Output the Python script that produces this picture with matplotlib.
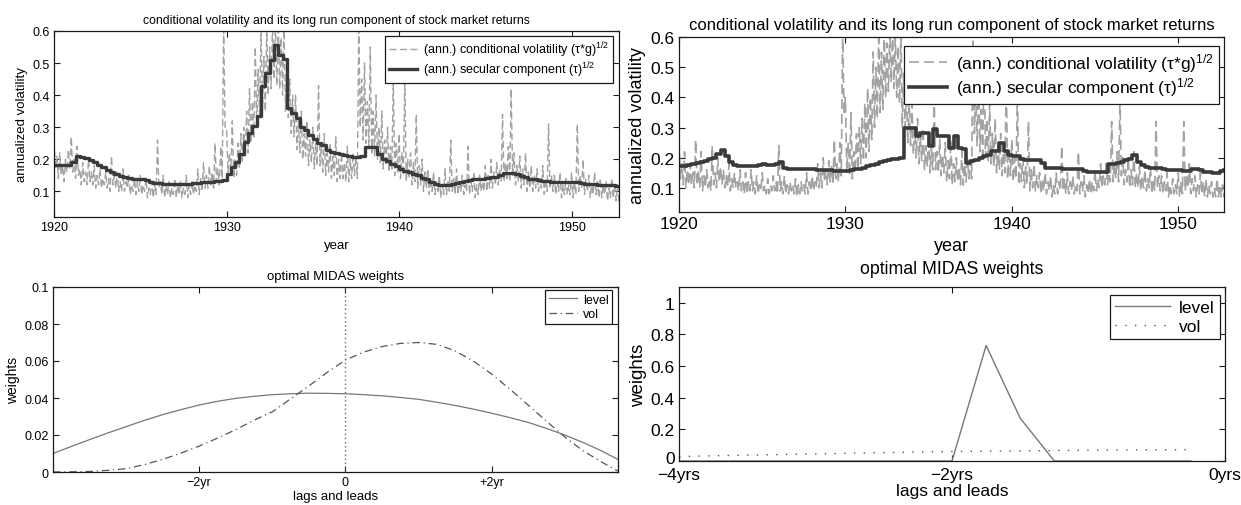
import numpy as np
import matplotlib
matplotlib.use("Agg")
import matplotlib.pyplot as plt
import matplotlib.transforms as mtransforms

plt.rcParams['font.family'] = ['Liberation Sans', 'DejaVu Sans']
plt.rcParams['mathtext.fontset'] = 'custom'
plt.rcParams['mathtext.rm'] = 'Liberation Sans'
plt.rcParams['mathtext.it'] = 'Liberation Sans:italic'

# ---------------- data ----------------
start_year = 1920.0
# secular component (tau)^1/2, quarterly, left model
tau_left = [
    0.183, 0.183, 0.183, 0.183,  0.190, 0.211, 0.207, 0.203,
    0.198, 0.190, 0.183, 0.176,  0.168, 0.160, 0.153, 0.148,
    0.144, 0.141, 0.139, 0.138,  0.140, 0.134, 0.130, 0.127,
    0.125, 0.123, 0.122, 0.122,  0.122, 0.122, 0.122, 0.123,
    0.125, 0.127, 0.128, 0.129,  0.130, 0.131, 0.132, 0.135,
    0.154, 0.175, 0.191, 0.217,  0.253, 0.281, 0.305, 0.336,
    0.430, 0.470, 0.510, 0.556,  0.525, 0.512, 0.360, 0.345,
    0.330, 0.300, 0.290, 0.275,  0.264, 0.250, 0.243, 0.230,
    0.224, 0.220, 0.215, 0.212,  0.209, 0.207, 0.206, 0.211,
    0.237, 0.237, 0.237, 0.216,  0.201, 0.195, 0.185, 0.178,
    0.170, 0.164, 0.160, 0.155,  0.150, 0.143, 0.137, 0.130,
    0.124, 0.119, 0.119, 0.121,  0.124, 0.127, 0.130, 0.132,
    0.135, 0.137, 0.139, 0.140,  0.142, 0.144, 0.146, 0.150,
    0.158, 0.157, 0.156, 0.154,  0.148, 0.145, 0.140, 0.137,
    0.134, 0.132, 0.131, 0.130,  0.129, 0.129, 0.130, 0.130,
    0.130, 0.128, 0.125, 0.122,  0.122, 0.122, 0.121, 0.120,
    0.119, 0.119, 0.118, 0.117,
]
# secular component (tau)^1/2, quarterly, right model
tau_right = [
    0.172, 0.172, 0.175, 0.178,  0.183, 0.186, 0.189, 0.195,
    0.200, 0.211, 0.226, 0.205,  0.186, 0.176, 0.172, 0.172,
    0.172, 0.173, 0.174, 0.175,  0.178, 0.176, 0.176, 0.178,
    0.186, 0.165, 0.163, 0.163,  0.163, 0.162, 0.162, 0.161,
    0.161, 0.160, 0.160, 0.159,  0.158, 0.157, 0.156, 0.156,
    0.156, 0.158, 0.161, 0.164,  0.167, 0.172, 0.176, 0.180,
    0.185, 0.188, 0.192, 0.195,  0.196, 0.200, 0.300, 0.300,
    0.300, 0.272, 0.283, 0.283,  0.239, 0.294, 0.272, 0.272,
    0.272, 0.233, 0.272, 0.233,  0.228, 0.183, 0.188, 0.194,
    0.200, 0.206, 0.210, 0.222,  0.222, 0.250, 0.222, 0.210,
    0.207, 0.205, 0.197, 0.194,  0.194, 0.194, 0.194, 0.181,
    0.167, 0.167, 0.167, 0.166,  0.161, 0.161, 0.161, 0.161,
    0.161, 0.155, 0.152, 0.152,  0.152, 0.152, 0.153, 0.180,
    0.180, 0.183, 0.186, 0.194,  0.197, 0.210, 0.185, 0.175,
    0.170, 0.166, 0.165, 0.165,  0.162, 0.160, 0.160, 0.160,
    0.158, 0.156, 0.156, 0.162,  0.162, 0.158, 0.152, 0.152,
    0.150, 0.148, 0.155, 0.160,
]
# conditional volatility (tau*g)^1/2, monthly, left model
cv_left = [
    0.26, 0.17, 0.21, 0.14, 0.22, 0.15, 0.18, 0.13, 0.20, 0.16, 0.23, 0.17,
    0.27, 0.16, 0.20, 0.14, 0.24, 0.15, 0.17, 0.12, 0.19, 0.13, 0.16, 0.12,
    0.20, 0.13, 0.16, 0.12, 0.18, 0.11, 0.15, 0.12, 0.17, 0.11, 0.14, 0.12,
    0.16, 0.11, 0.14, 0.10, 0.21, 0.12, 0.15, 0.11, 0.16, 0.10, 0.13, 0.10,
    0.17, 0.10, 0.13, 0.11, 0.15, 0.09, 0.12, 0.10, 0.14, 0.09, 0.13, 0.10,
    0.15, 0.09, 0.12, 0.10, 0.14, 0.08, 0.11, 0.09, 0.13, 0.08, 0.12, 0.09,
    0.26, 0.11, 0.13, 0.09, 0.15, 0.08, 0.12, 0.09, 0.13, 0.08, 0.11, 0.09,
    0.14, 0.08, 0.12, 0.09, 0.13, 0.08, 0.11, 0.09, 0.15, 0.08, 0.12, 0.09,
    0.13, 0.09, 0.12, 0.10, 0.17, 0.09, 0.14, 0.10, 0.19, 0.11, 0.15, 0.11,
    0.18, 0.12, 0.16, 0.11, 0.25, 0.13, 0.17, 0.12, 0.24, 0.14, 0.62, 0.30,
    0.30, 0.16, 0.22, 0.15, 0.32, 0.14, 0.20, 0.15, 0.25, 0.17, 0.28, 0.19,
    0.30, 0.21, 0.35, 0.22, 0.42, 0.25, 0.38, 0.27, 0.55, 0.30, 0.48, 0.33,
    0.62, 0.36, 0.52, 0.35, 0.62, 0.40, 0.55, 0.42, 0.62, 0.45, 0.62, 0.43,
    0.62, 0.42, 0.58, 0.40, 0.62, 0.35, 0.50, 0.33, 0.45, 0.28, 0.40, 0.27,
    0.40, 0.23, 0.32, 0.22, 0.35, 0.20, 0.28, 0.21, 0.32, 0.18, 0.26, 0.19,
    0.30, 0.17, 0.25, 0.18, 0.43, 0.18, 0.24, 0.16, 0.28, 0.15, 0.22, 0.16,
    0.25, 0.14, 0.21, 0.15, 0.27, 0.13, 0.20, 0.14, 0.22, 0.14, 0.19, 0.13,
    0.24, 0.13, 0.20, 0.14, 0.22, 0.15, 0.21, 0.14, 0.62, 0.30, 0.45, 0.26,
    0.50, 0.25, 0.38, 0.24, 0.55, 0.22, 0.35, 0.21, 0.40, 0.20, 0.30, 0.19,
    0.35, 0.17, 0.26, 0.18, 0.30, 0.16, 0.24, 0.17, 0.45, 0.15, 0.25, 0.16,
    0.28, 0.14, 0.22, 0.15, 0.45, 0.13, 0.20, 0.14, 0.22, 0.12, 0.19, 0.13,
    0.34, 0.11, 0.18, 0.12, 0.20, 0.10, 0.16, 0.11, 0.17, 0.09, 0.14, 0.10,
    0.16, 0.09, 0.13, 0.10, 0.15, 0.08, 0.12, 0.09, 0.17, 0.09, 0.13, 0.10,
    0.26, 0.10, 0.14, 0.09, 0.17, 0.09, 0.13, 0.10, 0.15, 0.09, 0.12, 0.10,
    0.24, 0.09, 0.13, 0.10, 0.16, 0.08, 0.12, 0.09, 0.15, 0.10, 0.13, 0.10,
    0.18, 0.10, 0.15, 0.11, 0.20, 0.11, 0.16, 0.12, 0.19, 0.12, 0.17, 0.13,
    0.34, 0.13, 0.19, 0.14, 0.24, 0.13, 0.42, 0.15, 0.22, 0.12, 0.18, 0.13,
    0.21, 0.11, 0.17, 0.12, 0.22, 0.10, 0.16, 0.11, 0.18, 0.10, 0.15, 0.11,
    0.17, 0.10, 0.14, 0.11, 0.18, 0.09, 0.14, 0.10, 0.31, 0.11, 0.15, 0.10,
    0.15, 0.09, 0.13, 0.10, 0.16, 0.08, 0.12, 0.09, 0.14, 0.09, 0.12, 0.09,
    0.16, 0.08, 0.13, 0.09, 0.31, 0.10, 0.15, 0.11, 0.20, 0.09, 0.14, 0.10,
    0.15, 0.08, 0.12, 0.09, 0.16, 0.09, 0.13, 0.08, 0.14, 0.08, 0.12, 0.09,
    0.13, 0.07, 0.11, 0.08, 0.14, 0.08, 0.12, 0.07, 0.12, 0.07, 0.10, 0.08,
]
# conditional volatility (tau*g)^1/2, monthly, right model
cv_right = [
    0.26, 0.13, 0.18, 0.11, 0.22, 0.10, 0.16, 0.11, 0.18, 0.11, 0.15, 0.10,
    0.26, 0.11, 0.16, 0.10, 0.22, 0.09, 0.14, 0.10, 0.16, 0.10, 0.13, 0.09,
    0.24, 0.11, 0.15, 0.10, 0.20, 0.12, 0.17, 0.11, 0.16, 0.10, 0.14, 0.10,
    0.18, 0.09, 0.13, 0.10, 0.15, 0.10, 0.12, 0.09, 0.16, 0.09, 0.12, 0.08,
    0.15, 0.08, 0.12, 0.09, 0.16, 0.09, 0.12, 0.08, 0.14, 0.08, 0.11, 0.09,
    0.15, 0.09, 0.11, 0.08, 0.13, 0.08, 0.11, 0.09, 0.14, 0.09, 0.12, 0.08,
    0.24, 0.09, 0.12, 0.08, 0.14, 0.08, 0.11, 0.08, 0.12, 0.09, 0.11, 0.08,
    0.13, 0.07, 0.11, 0.08, 0.12, 0.09, 0.11, 0.08, 0.15, 0.08, 0.12, 0.09,
    0.14, 0.09, 0.12, 0.10, 0.18, 0.10, 0.15, 0.10, 0.20, 0.12, 0.16, 0.11,
    0.19, 0.12, 0.17, 0.11, 0.26, 0.13, 0.18, 0.12, 0.25, 0.14, 0.62, 0.35,
    0.40, 0.15, 0.25, 0.14, 0.35, 0.13, 0.22, 0.15, 0.28, 0.16, 0.30, 0.18,
    0.33, 0.19, 0.38, 0.20, 0.43, 0.22, 0.40, 0.26, 0.55, 0.30, 0.50, 0.33,
    0.62, 0.35, 0.55, 0.36, 0.62, 0.40, 0.58, 0.42, 0.62, 0.45, 0.62, 0.43,
    0.62, 0.40, 0.57, 0.38, 0.62, 0.30, 0.48, 0.30, 0.42, 0.25, 0.38, 0.24,
    0.38, 0.21, 0.30, 0.20, 0.33, 0.18, 0.27, 0.19, 0.30, 0.16, 0.24, 0.17,
    0.28, 0.15, 0.23, 0.16, 0.40, 0.16, 0.22, 0.15, 0.26, 0.14, 0.21, 0.15,
    0.25, 0.12, 0.19, 0.13, 0.26, 0.11, 0.18, 0.12, 0.20, 0.12, 0.17, 0.11,
    0.22, 0.11, 0.18, 0.12, 0.20, 0.13, 0.19, 0.13, 0.62, 0.28, 0.42, 0.24,
    0.50, 0.22, 0.36, 0.21, 0.55, 0.20, 0.33, 0.19, 0.38, 0.18, 0.28, 0.17,
    0.33, 0.15, 0.24, 0.16, 0.28, 0.14, 0.22, 0.15, 0.45, 0.13, 0.23, 0.14,
    0.26, 0.12, 0.20, 0.13, 0.42, 0.11, 0.18, 0.12, 0.20, 0.10, 0.17, 0.11,
    0.32, 0.09, 0.16, 0.10, 0.18, 0.09, 0.14, 0.10, 0.15, 0.08, 0.13, 0.09,
    0.15, 0.08, 0.12, 0.09, 0.14, 0.07, 0.11, 0.08, 0.15, 0.08, 0.12, 0.09,
    0.24, 0.09, 0.13, 0.08, 0.15, 0.08, 0.12, 0.09, 0.14, 0.08, 0.11, 0.09,
    0.22, 0.08, 0.12, 0.09, 0.14, 0.07, 0.11, 0.08, 0.13, 0.08, 0.12, 0.09,
    0.16, 0.09, 0.13, 0.10, 0.18, 0.10, 0.14, 0.11, 0.18, 0.11, 0.15, 0.12,
    0.32, 0.12, 0.18, 0.13, 0.22, 0.12, 0.40, 0.14, 0.20, 0.11, 0.16, 0.12,
    0.20, 0.10, 0.16, 0.11, 0.22, 0.10, 0.15, 0.10, 0.17, 0.09, 0.14, 0.10,
    0.16, 0.09, 0.13, 0.10, 0.17, 0.08, 0.13, 0.09, 0.32, 0.10, 0.14, 0.09,
    0.14, 0.08, 0.12, 0.09, 0.15, 0.07, 0.11, 0.08, 0.13, 0.08, 0.11, 0.08,
    0.15, 0.07, 0.12, 0.08, 0.32, 0.09, 0.14, 0.10, 0.18, 0.08, 0.13, 0.09,
    0.14, 0.07, 0.11, 0.08, 0.15, 0.08, 0.12, 0.07, 0.13, 0.07, 0.11, 0.08,
    0.12, 0.07, 0.10, 0.07, 0.13, 0.07, 0.11, 0.07, 0.11, 0.07, 0.10, 0.07,
]

# MIDAS weights, left model (lags and leads, years)
lags_left = [-4.0, -3.75, -3.5, -3.25, -3.0, -2.75, -2.5, -2.25, -2.0,
             -1.75, -1.5, -1.25, -1.0, -0.75, -0.5, -0.25, 0.0,
             0.25, 0.5, 0.75, 1.0, 1.25, 1.5, 1.75, 2.0,
             2.25, 2.5, 2.75, 3.0, 3.25, 3.5, 3.73]
w_level_left = [0.0100, 0.0138, 0.0175, 0.0211, 0.0245, 0.0279, 0.0310, 0.0337, 0.0362,
                0.0382, 0.0398, 0.0409, 0.0418, 0.0423, 0.0426, 0.0425, 0.0423,
                0.0418, 0.0412, 0.0403, 0.0393, 0.0377, 0.0360, 0.0340, 0.0318,
                0.0294, 0.0268, 0.0236, 0.0200, 0.0160, 0.0115, 0.0068]
w_vol_left = [0.0000, 0.0001, 0.0003, 0.0009, 0.0018, 0.0040, 0.0068, 0.0102, 0.0140,
              0.0183, 0.0229, 0.0280, 0.0325, 0.0395, 0.0465, 0.0538, 0.0605,
              0.0648, 0.0678, 0.0695, 0.0700, 0.0690, 0.0655, 0.0600, 0.0530,
              0.0448, 0.0362, 0.0275, 0.0190, 0.0115, 0.0055, 0.0005]

# MIDAS weights, right model (lags, years)
lags_right = [-4.0, -3.75, -3.5, -3.25, -3.0, -2.75, -2.5, -2.25,
              -2.0, -1.75, -1.5, -1.25, -1.0, -0.75, -0.5, -0.25]
w_level_right = [0, 0, 0, 0, 0, 0, 0, 0, 0, 0.73, 0.27, 0, 0, 0, 0, 0]
w_vol_right = [0.028, 0.033, 0.037, 0.041, 0.045, 0.049, 0.053, 0.057,
               0.060, 0.062, 0.064, 0.066, 0.068, 0.070, 0.071, 0.072]

# ---------------- figure ----------------
W, H = 1241, 506
fig = plt.figure(figsize=(W / 100, H / 100), dpi=100)


def box(x0, y0, x1, y1):
    return [x0 / W, 1 - y1 / H, (x1 - x0) / W, (y1 - y0) / H]


CV_COL = '#a2a2a2'
TAU_COL = '#3a3a3a'
EDGE = '#1a1a1a'


def style(ax, fs):
    ax.tick_params(direction='in', top=True, right=True, length=4.5, width=0.8,
                   labelsize=fs, pad=3, colors=EDGE, labelcolor='black')
    for s in ax.spines.values():
        s.set_linewidth(0.9)
        s.set_color(EDGE)


def make_legend(ax, anchor, fs, hl, lsp, bp):
    leg = ax.legend(loc='upper right', bbox_to_anchor=anchor, fontsize=fs,
                    frameon=True, fancybox=False, edgecolor=EDGE, framealpha=1,
                    handlelength=hl, borderpad=bp, labelspacing=lsp,
                    handletextpad=0.5, borderaxespad=0)
    leg.get_frame().set_linewidth(0.9)
    return leg


def top_panel(ax, cv, tau, fs, tfs, lfs, legfs, leg_anchor, lw_tau, lw_cv, dash,
              lsp, bp, xlp):
    t_cv = start_year + np.arange(len(cv)) / 12.0
    t_tau = start_year + np.arange(len(tau)) / 4.0
    ax.plot(t_cv, cv, color=CV_COL, lw=lw_cv, ls=(0, dash),
            label=r'(ann.) conditional volatility (τ*g)$^{1/2}$')
    ax.step(t_tau, tau, where='post', color=TAU_COL, lw=lw_tau,
            label=r'(ann.) secular component (τ)$^{1/2}$')
    ax.set_xlim(1920, 1952.75)
    ax.set_ylim(0.02, 0.6)
    ax.set_xticks([1920, 1930, 1940, 1950])
    ax.set_yticks([0.1, 0.2, 0.3, 0.4, 0.5, 0.6])
    ax.set_yticklabels(['0.1', '0.2', '0.3', '0.4', '0.5', '0.6'])
    ax.set_xlabel('year', fontsize=lfs, labelpad=xlp)
    ax.set_ylabel('annualized volatility', fontsize=lfs, labelpad=3)
    ax.set_title('conditional volatility and its long run component of stock market returns',
                 fontsize=tfs, pad=6)
    make_legend(ax, leg_anchor, legfs, 2.2, lsp, bp)
    style(ax, fs)


# top-left
ax1 = fig.add_axes(box(54, 32, 619, 218))
top_panel(ax1, cv_left, tau_left, 9, 8.8, 9.5, 9, (0.989, 0.975), 2.4, 1.0, (5, 2.5),
          0.02, 0.3, 4)

# top-right
ax2 = fig.add_axes(box(679, 38, 1224, 213))
top_panel(ax2, cv_right, tau_right, 12.5, 12, 13, 12.5, (0.991, 0.95), 2.6, 1.2, (6, 3),
          0.1, 0.3, 4)

# bottom-left
ax3 = fig.add_axes(box(53, 288, 618, 473))
ax3.plot(lags_left, w_level_left, color='#777777', lw=0.9, label='level')
ax3.plot(lags_left, w_vol_left, color='#555555', lw=0.9, ls=(0, (6, 3, 1, 3)), label='vol')
ax3.axvline(0, color='#666666', lw=1.0, ls=(0, (1, 2)))
ax3.set_xlim(-4, 3.73)
ax3.set_ylim(0, 0.1)
ax3.set_xticks([-2, 0, 2])
ax3.set_xticklabels(['\u22122yr', '0', '+2yr'])
ax3.set_yticks([0, 0.02, 0.04, 0.06, 0.08, 0.1])
ax3.set_yticklabels(['0', '0.02', '0.04', '0.06', '0.08', '0.1'])
ax3.set_xlabel('lags and leads', fontsize=9.5, labelpad=1)
ax3.set_ylabel('weights', fontsize=10, labelpad=3)
ax3.set_title('optimal MIDAS weights', fontsize=9.5, pad=6)
make_legend(ax3, (0.99, 0.984), 9, 2.2, 0.2, 0.3)
style(ax3, 9)

# bottom-right
ax4 = fig.add_axes(box(679, 288, 1225, 462))
ax4.plot(lags_right, w_level_right, color='#777777', lw=1.0, label='level')
ax4.plot(lags_right, w_vol_right, color='#555555', lw=1.0, ls=(0, (1, 6)), label='vol')
ax4.set_xlim(-4, 0)
ax4.set_ylim(0, 1.1)
ax4.set_xticks([-4, -2, 0])
ax4.set_xticklabels(['\u22124yrs', '\u22122yrs', '0yrs'])
ax4.set_yticks([0, 0.2, 0.4, 0.6, 0.8, 1.0])
ax4.set_yticklabels(['0', '0.2', '0.4', '0.6', '0.8', '1'])
ax4.set_xlabel('lags and leads', fontsize=12.5, labelpad=1)
ax4.set_ylabel('weights', fontsize=13.5, labelpad=3)
ax4.set_title('optimal MIDAS weights', fontsize=12.8, pad=10)
make_legend(ax4, (0.991, 0.954), 12.5, 3.2, 0.2, 0.3)
style(ax4, 12.5)
ax4.tick_params(axis='x', pad=4)
# nudge the "0" y tick label up slightly, as in the reference
fig.canvas.draw()
ylabs = ax4.get_yticklabels()
ylabs[0].set_transform(ylabs[0].get_transform() +
                       mtransforms.ScaledTranslation(0, 4 / 100, fig.dpi_scale_trans))

fig.savefig('out.png', dpi=100)
